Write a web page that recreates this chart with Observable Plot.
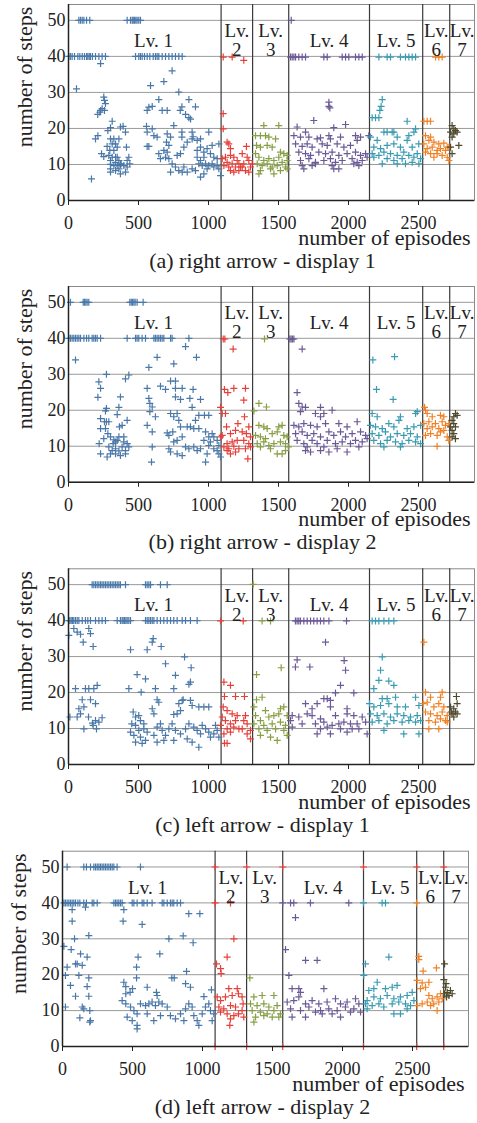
<!DOCTYPE html>
<html><head><meta charset="utf-8">
<script src="https://cdn.jsdelivr.net/npm/d3@7"></script>
<script src="https://cdn.jsdelivr.net/npm/@observablehq/plot@0.6"></script>
<style>body{margin:0;background:#fff;width:477px;overflow:hidden}svg{display:block}</style>
</head><body><div id="root"></div>
<script>
const xTicks = [0, 500, 1000, 1500, 2000, 2500];
const yTicks = [0, 10, 20, 30, 40, 50];
const gridY = [10, 20, 30, 40, 50];
const boundaries = [1090, 1315, 1573, 2150, 2530, 2723];
const levelNames = ["Lv. 1", "Lv.\n2", "Lv.\n3", "Lv. 4", "Lv. 5", "Lv.\n6", "Lv.\n7"];
const levelColors = ["#4a78a8", "#e5403b", "#87a045", "#6c5a97", "#3a9bb1", "#f08126", "#4f4a2c"];
const captions = ["(a) right arrow - display 1", "(b) right arrow - display 2", "(c) left arrow - display 1", "(d) left arrow - display 2"];

// flat [episode, steps, ...] pairs per panel per level
const A1 = [74,50,86,50,98,50,110,50,129,50,152,50,419,50,443,50,455,50,462,50,471,50,481,50,490,50,502,50,514,50,
2,40,14,40,26,40,43,40,67,40,81,40,98,40,114,40,129,40,138,40,148,40,157,40,171,40,193,40,217,40,240,40,264,40,
479,40,502,40,514,40,526,40,543,40,562,40,581,40,605,40,621,40,633,40,645,40,669,40,693,40,717,40,740,40,764,40,788,40,812,40,
229,38,57,31,252,28.7,257,27.8,264,26.9,240,25.5,257,25,229,25,209,23.9,224,24.5,312,22,300,20.2,281,19.4,210,18,193,17.1,
236,13,252,12.2,276,15,300,17.1,312,15.7,324,17.1,336,15.7,295,13.9,324,13.9,288,12.5,312,12,336,12,348,12,300,11.1,336,10.6,360,11.1,
300,10,324,9.7,348,9.7,371,10,300,8.8,336,8.3,360,8.8,300,7.9,371,7.4,407,7.9,371,20.4,390,20.6,407,19,414,14.8,431,12,419,11.1,
376,10.2,395,9.7,419,9.3,438,10.2,348,14.8,360,17.1,164,6,
586,31.9,645,28,681,33,740,36,788,30.1,562,25,574,25.9,598,26.1,669,25,705,25,798,25,810,26,860,28,907,26,836,23.9,860,23,872,22.6,
557,20.6,598,19.9,562,19,610,18,633,17.6,752,20.8,705,18.5,729,17.6,810,19,883,19,810,17.6,562,15,574,15,700,16.2,717,15.3,
645,13,681,13.9,705,13.4,657,11.6,693,12,717,11.6,740,10.2,776,12.5,800,13,824,14.8,848,16.2,883,17.1,890,17.7,
764,9.3,788,8.3,824,9.3,729,7.9,812,7.9,848,7.9,883,8.8,907,8.3,943,6.5,967,7.4,919,12,943,11.1,967,12,
919,13.9,943,14.8,967,13.4,990,14.4,1002,19,943,17.1,919,16.7,931,10.2,955,9.7,979,10.2,1002,9.7,1026,10.2,
1014,13,1038,12,1062,11.6,1038,9.3,1062,9.7,1074,8.8,1086,6.9,990,8.8,1026,15.3,1074,15.7];
const A2 = [1105,24.1,1105,19.9,1105,39.8,1169,39.8,1133,16.2,1145,15.7,1157,14.4,1121,12,1157,12.5,1181,12,1098,11.6,1205,11.1,1133,10.6,1169,10.2,1217,10.2,1110,9.7,1145,9.3,1193,9.3,1157,8.3,1181,7.9,1217,8.3,1229,9.3,1252,38.9,1271,15,1241,13,1276,12,1252,10.2,1288,11.1,1300,9.3,1264,8.3,1241,9.3,1288,7.9,1312,10.2];
const A3 = [1395,20.8,1502,20.8,1336,18,1371,18,1407,18,1431,17.6,1479,17.1,1343,15.3,1371,14.8,1419,15.3,1455,14.8,1514,13.4,1538,13,1562,12.5,1336,13,1360,12,1395,11.1,1431,11.6,1467,11.1,1502,12,1526,10.6,1562,11.1,1348,10.2,1383,9.7,1419,10.2,1455,9.3,1491,9.7,1550,9.3,1371,8.3,1443,8.8,1514,8.3,1562,8.8,1360,7.4,1467,7.4];
const A4 = [1591,50,1586,39.8,1598,39.8,1610,39.8,1622,39.8,1645,39.8,1669,39.8,1693,39.8,1824,39.8,1848,39.8,1955,39.8,1979,39.8,2002,39.8,2050,39.8,2074,39.8,2098,39.8,
1860,27.3,1860,26.1,1867,25.7,1752,22.2,1979,21.1,1895,20.2,1633,20.4,1693,19,1610,18,1657,17.6,
1717,17.6,1776,17.1,1800,17.4,1860,18,1871,17.1,1943,17.6,2050,18,2086,17.6,2145,18,
1622,15.7,1669,15,1705,15.7,1740,14.8,1812,15.7,1848,15.3,1919,15.7,1967,14.8,2014,15.3,2062,16.7,
1645,13.4,1693,13,1729,12.5,1788,13.4,1836,13,1883,13.4,1931,12.5,1990,13,2050,13.4,2086,12.5,2122,13,
1657,11.1,1717,11.6,1764,10.6,1824,11.1,1871,11.6,1907,10.6,1955,11.1,2026,11.6,2062,10.6,2098,11.1,2133,12,
1669,9.7,1740,9.7,1883,9.7,2038,10.2,2074,9.7,1764,10.2,1895,8.8,1931,8.8,1681,8.8];
const A5 = [2217,39.8,2276,39.8,2300,39.8,2371,39.8,2407,39.8,2431,39.8,2455,39.8,2479,39.8,2241,28,2233,26.1,2224,25,2169,23,2193,23,2217,23,2419,22,2253,19,2276,19,2312,19,2324,19,2467,19,2479,19.9,2157,17.6,2205,16.7,2348,17.6,2431,18,2181,14.8,2229,14.4,2276,15.3,2324,15.7,2371,14.8,2419,16.7,2455,14.8,2502,15.7,2169,13,2217,12.5,2253,13.4,2300,13,2348,12.5,2395,13.4,2431,12.5,2491,13,2181,12,2276,11.6,2324,11.1,2383,11.6,2467,12,2515,11.6,2241,10.2,2348,10.2,2407,10.2,2455,10.6,2503,10.2];
const A6 = [2622,39.8,2645,39.8,2669,39.8,2538,22,2562,22,2586,22,2550,18,2586,17.6,2538,15.7,2574,16.7,2610,16.2,2645,15.7,2681,15.9,2705,14.8,2562,14.4,2598,14.8,2633,13.9,2657,14.4,2693,13.9,2717,14.8,2586,13,2633,13,2669,12.5,2705,12,2717,11.1,2550,13.4,2610,12];
const A7 = [2740,20.8,2752,19.9,2729,19,2764,19.4,2776,19,2752,18.5,2740,17.6,2729,14.8,2788,15.3,2740,13];

const B1 = [14,50,105,50,114,50,124,50,133,50,145,50,438,50,448,50,457,50,467,50,476,50,490,50,533,50,
2,40,14,40,26,40,38,40,50,40,62,40,74,40,86,40,110,40,129,40,145,40,169,40,181,40,193,40,205,40,229,40,
419,40,479,40,490,40,502,40,526,40,550,40,610,40,621,40,633,40,645,40,657,40,669,40,681,40,729,40,740,40,860,40,
50,34,836,37.7,914,34.7,633,34.7,574,31.9,752,32.9,431,29.8,407,28.7,271,30,217,27.9,229,26.1,210,23.6,271,20.5,264,19.8,371,23.7,360,20.8,348,18.8,229,17.7,271,16.8,257,16.8,288,16.8,229,14.9,264,14.9,281,13.5,300,12.6,324,11.8,336,11.2,348,11.6,319,10.7,360,12.6,395,12.6,395,11.2,419,10.7,288,9.8,312,8.8,336,9.3,360,8.7,383,9.8,407,8.8,431,9.8,300,7.9,336,7.9,371,7.4,407,7.9,276,7,229,7.9,252,12.1,219,10.7,383,15.8,419,17.2,364,15.4,
562,26.1,574,23.3,581,21.9,598,20.9,581,19.6,562,15.8,598,14,598,9.8,593,5.6,621,18.2,657,26.7,693,25.8,729,28.1,764,28.1,764,26.1,764,23.7,800,23,812,26.1,890,25.8,867,23.3,883,20.8,943,23,729,19.1,752,18.2,776,19.1,788,17.2,800,15.4,705,13.7,717,13,745,14,752,11.2,776,11.6,812,12.6,848,15.4,871,15.4,895,14.9,931,14.9,907,17.2,931,18.6,971,18.6,1002,18.6,717,9.3,729,8.4,776,7.9,812,7.4,836,9.8,860,9.3,895,9.8,919,8.8,943,9.3,979,5.6,990,7.9,967,11.6,1002,12.6,1014,11.2,1038,12.6,1062,11.6,1074,10.2,1038,9.3,1062,8.8,1074,7.9,1086,7,1002,10.2,979,14,1026,13.5];
const B2 = [1105,39.8,1117,39.8,1176,37,1114,25.8,1138,24.9,1181,26.1,1086,20.8,1098,19.1,1121,19.1,1129,15.4,1098,13,1086,12.6,1157,13.5,1193,14.4,1210,16.3,1133,10.7,1169,11.2,1205,11.6,1110,9.8,1145,9.3,1181,10,1217,9.3,1157,7.9,1193,8.4,1133,8.8,1264,26.1,1252,22.8,1257,18.2,1288,15.4,1241,14,1271,13.5,1300,12.6,1252,11.6,1288,10.7,1264,9.3,1300,9.8,1281,6.5];
const B3 = [1400,39.8,1360,21.9,1414,20.9,1324,19.8,1360,15.8,1395,15.4,1419,14.9,1502,15.4,1526,15.8,1336,13,1371,12.6,1407,12.1,1455,13.5,1491,14,1538,13,1562,12.6,1348,10.7,1395,11.2,1431,10.2,1467,10.7,1514,11.2,1550,10.7,1570,9.8,1491,7.9,1526,7.9,1550,8.8,1371,9.8,1443,9.3];
const B4 = [1581,39.8,1590,39.8,1600,39.8,1610,39.8,1669,37,1633,24.9,1645,21.9,1669,20.9,1657,19.6,1693,20.8,1800,20.8,1764,19.1,1824,19.1,1883,20,1800,18.2,1610,15.8,1645,15.4,1681,16.3,1729,15.8,1776,15.4,1836,16.3,1931,16.3,1990,15.4,2062,16.8,1622,13.5,1669,14,1705,13,1752,13.5,1800,12.6,1860,14,1895,13,1943,14,1979,12.6,2026,13.5,2086,14,2122,13,1633,11.6,1681,10.7,1740,11.6,1776,10.7,1848,11.6,1907,10.7,1955,11.2,2014,10.7,2050,11.6,2098,11.2,2133,12.1,1693,8.8,1729,8.4,1800,8.8,1860,8.4,1919,9.3,1990,8.4,1705,9.8,1824,9.8,2074,9.8];
const B5 = [2174,34,2329,34.9,2200,25.8,2319,23,2169,19.1,2205,18.2,2371,18.2,2479,19.1,2491,19.6,2157,15.8,2193,15.4,2241,14.9,2288,16.3,2324,15.4,2360,17.2,2419,14.9,2467,15.4,2515,15.8,2169,13.5,2217,13,2264,14,2300,12.6,2348,13.5,2395,13,2443,13.5,2491,12.6,2181,11.6,2229,10.7,2276,11.6,2336,11.2,2383,10.7,2431,11.6,2479,11.2,2515,10.7,2253,9.8,2371,9.8];
const B6 = [2543,20.8,2550,20,2562,19.1,2598,18.2,2657,18.6,2681,18.2,2538,16.3,2574,16.8,2621,16.3,2669,16.8,2693,15.8,2717,16.3,2562,14.9,2598,15.4,2645,14.9,2681,14.4,2586,13.5,2633,13,2657,14,2705,12.6,2717,11.6,2633,10,2550,13];
const B7 = [2764,19.1,2776,18.6,2752,18.2,2740,17.2,2752,16.3,2764,15.4,2740,14.4,2752,13.5,2740,12.6,2764,12.1,2729,15.4];

const C1 = [169,50,181,50,193,50,205,50,217,50,229,50,240,50,252,50,264,50,276,50,288,50,300,50,312,50,324,50,336,50,348,50,360,50,371,50,407,50,550,50,562,50,574,50,586,50,657,50,705,50,
2,40,10,40,19,40,29,40,38,40,50,40,62,40,74,40,98,40,121,40,138,40,157,40,193,40,217,40,240,40,264,40,348,40,371,40,383,40,390,40,400,40,410,40,419,40,431,40,443,40,550,40,562,40,574,40,586,40,598,40,610,40,633,40,657,40,681,40,705,40,729,40,752,40,776,40,812,40,836,40,871,40,919,40,
2,35.9,38,37.8,62,36.8,86,36.2,145,37.8,157,36.4,105,34,176,32.8,50,21.1,121,21.1,145,21.1,181,21.1,205,22,98,18,157,18,74,15.5,110,16,193,16.9,86,14.1,143,13.2,171,11.5,193,12.2,217,11.8,240,13,110,9.9,176,10.9,200,9.9,10,13.2,62,13.2,
443,31.9,562,31.9,598,34,605,35,662,32.8,693,28,829,29.9,876,26.9,490,25,550,23.8,764,24.8,871,22.9,860,22.3,431,21.1,519,20.1,621,21.1,752,21.1,633,18,645,17.3,819,18,598,15.5,610,14.1,871,17.8,883,16.4,931,16,967,16,1002,16,462,14.6,479,13.2,502,13.6,452,11.3,479,10.9,514,12.2,538,11.3,502,9.5,538,9.9,562,9,443,9,467,8.1,514,7.6,550,6.7,526,5.9,479,6.2,610,8.1,633,10.4,657,11.3,669,9.5,693,8.1,717,9.9,740,11.3,752,13.9,776,14.1,800,15,788,16.9,812,17.8,764,9.5,800,8.5,836,9.9,860,11.3,895,10.4,919,9.5,943,8.5,931,4.8,955,10.9,979,9.9,1002,9,1014,7.6,1038,8.5,1062,9.5,1074,7.6,1050,10.9,752,6.7,848,7.1,883,6.2,633,6.2,681,6.7];
const C2 = [1086,39.9,1110,22.9,1157,22,1114,18.9,1193,18.9,1105,16,1133,15,1169,14.1,1205,13.6,1098,13.2,1121,12.2,1157,11.3,1193,12.2,1086,10.9,1133,9.9,1181,10.4,1217,9.9,1110,8.5,1157,9,1114,5.9,1133,5.9,1248,39.9,1257,18.9,1264,13.6,1252,12.2,1276,11.3,1241,9.9,1276,8.5,1300,9.5,1300,7.1];
const C3 = [1319,50.1,1383,39.9,1443,39.9,1519,26.9,1343,25,1343,18,1383,18.7,1324,16,1407,15,1514,15.5,1538,16,1336,13.6,1371,12.2,1431,13.2,1467,13.6,1502,14.1,1562,13.6,1324,11.3,1395,10.9,1455,11.3,1514,11.8,1550,10.9,1360,9.9,1419,9.5,1479,9.9,1538,9.5,1443,7.6,1491,6.7,1562,8.1,1371,8.1];
const C4 = [1621,39.9,1633,39.9,1645,39.9,1657,39.9,1681,39.9,1705,39.9,1729,39.9,1752,39.9,1776,39.9,1800,39.9,1824,39.9,1860,39.9,1986,39.9,1836,34,1633,29.1,1621,27.1,1724,27.1,1969,28.9,1979,26.2,1943,22,1907,19.9,2038,19.9,1693,16.9,1776,16.9,1824,18.3,1848,18.3,1871,17.8,1740,15.5,1871,16,1990,15.5,1598,13.6,1645,13.2,1705,14.1,1740,13.6,1800,12.7,1907,13.6,1990,14.1,2038,13.6,2098,13.2,1586,12.2,1669,11.3,1764,11.3,1824,11.8,1883,10.9,1931,11.3,1967,11.8,2014,11.3,2062,11.3,2122,11.8,1800,9.9,1848,10.4,1943,9.9,2026,9.9,2074,9.9,1776,8.5,1871,8.5,1990,9,2133,8.5,1598,10.4];
const C5 = [2169,39.9,2193,39.9,2217,39.9,2253,39.9,2288,39.9,2324,39.9,2241,29.9,2229,26.2,2217,23.4,2181,21.1,2288,23.2,2324,22,2241,18.3,2276,18.3,2336,18.7,2479,18.7,2150,16.9,2181,16,2229,16.4,2288,16.9,2348,16,2407,16,2503,16.4,2157,14.1,2205,13.6,2253,14.1,2300,13.2,2348,14.1,2395,13.6,2443,13.2,2491,13.6,2169,11.8,2217,12.2,2276,11.3,2324,12.2,2383,11.8,2431,12.2,2479,11.8,2515,12.2,2395,8.5,2503,8.5,2253,9.5];
const C6 = [2538,34,2550,20.1,2669,20.1,2586,18.7,2657,18.7,2533,16.9,2562,17.3,2610,16,2645,16.9,2681,16,2550,14.6,2586,14.1,2633,13.6,2669,14.6,2705,13.6,2574,12.2,2621,11.8,2657,12.7,2705,11.8,2574,9.9,2645,9.9,2693,12.2];
const C7 = [2771,18.9,2776,16.9,2752,15.5,2729,16,2764,14.6,2740,14.1,2752,13.2,2776,14.1,2734,14.6];

const D1 = [33,50,152,50,171,50,200,50,224,50,236,50,248,50,260,50,271,50,283,50,295,50,307,50,319,50,331,50,343,50,355,50,367,50,390,50,557,50,
10,40,21,40,33,40,45,40,57,40,69,40,81,40,93,40,110,40,124,40,152,40,171,40,212,40,224,40,248,40,367,40,379,40,390,40,402,40,414,40,426,40,498,40,510,40,533,40,569,40,581,40,605,40,640,40,712,40,724,40,748,40,771,40,783,40,795,40,819,40,843,40,
69,38.1,164,38.8,69,34.9,86,30,188,30.9,438,38.1,433,34.9,569,34,10,27.9,62,27,129,25.8,176,24.9,93,23,105,23,141,22.6,33,22.1,21,19.8,117,19.8,188,19.1,57,17,176,16.7,93,14,188,14,141,11,152,10.5,195,10,21,11,124,8,195,6.8,200,7.2,
540,24.9,529,22.1,529,19.1,695,25.8,760,30,862,30.8,933,28.9,902,37,981,37,886,20.9,781,19.1,798,19.1,438,17.9,452,16.7,500,16.1,452,14.7,483,15.1,605,16.5,671,15.1,676,14.2,879,17.5,914,16.5,1010,13.9,1064,15.8,426,12.8,452,11.9,486,11,510,10,533,9.1,462,8.2,498,7.2,533,5.9,533,4.9,557,11.9,593,11.4,617,11.9,640,12.4,664,11.4,688,12.4,712,11.9,605,9.1,652,7.2,700,8.6,748,11,771,8.6,807,7.7,843,9.1,867,7.2,879,10.5,902,11.9,926,11,938,8.6,962,7.2,974,5.9,998,9.1,1021,11,1045,11.9,1057,10,1069,7.2,1081,9.1];
const D2 = [1090,40,1200,40,1224,30,1100,23,1129,21.7,1133,20.3,1176,24.9,1188,16.1,1248,16.1,1105,13.8,1129,12.8,1164,13.8,1212,14.2,1257,14.7,1117,11,1152,10.5,1200,11.4,1236,11,1129,9.6,1176,9.1,1224,8.6,1200,7.7,1195,5.9,1257,9.1,1283,13.8,1290,11.9,1283,10,1295,8.2];
const D3 = [1338,19.1,1367,13.8,1426,14.2,1510,14.2,1343,11.9,1390,11.4,1438,11.9,1474,11,1533,11.4,1355,10,1414,9.6,1462,9.1,1510,10,1557,9.1,1379,8.2,1438,8.6,1498,8.2,1367,6.8,1545,8.2];
const D4 = [1573,40,1629,40,1652,40,1771,40,2045,40,1664,35.9,1593,27,1736,24,1819,24,1617,19.8,1640,16.1,1688,16.1,1700,15.1,1867,16.1,1605,12.4,1652,12.8,1688,13.8,1736,11.9,1783,12.8,1831,11.9,1890,12.4,1950,13.3,1986,11.9,2033,12.4,2093,13.3,2117,11.9,1629,10.5,1700,10,1760,11,1843,10,1902,10.5,1962,10,2021,11,2081,10.5,2129,9.6,1855,9.1,1926,9.1,1986,8.2,1640,8.2,1736,8.2,1807,9.6,2057,9.6];
const D5 = [2150,40,2283,40,2307,40,2164,23,2331,24.9,2152,19.8,2248,17.9,2188,15.6,2224,16.1,2307,16.1,2355,16.5,2390,17,2176,12.8,2224,13.8,2271,13.3,2319,14.2,2367,13.3,2414,13.8,2462,14.2,2498,15.1,2164,11.9,2212,11.4,2260,11.9,2295,11,2355,11.9,2402,12.4,2450,11.9,2486,11.4,2510,12.8,2367,9.1,2414,9.1,2462,10.5,2176,10.5];
const D6 = [2530,40,2545,25.1,2545,24.2,2576,21,2671,21.9,2533,18.4,2569,17.7,2617,17.9,2557,16.1,2593,16.5,2533,11.4,2569,11.9,2605,12.4,2641,13.3,2676,13.8,2700,14.7,2617,14.2,2652,11.9,2688,12.4,2676,10,2712,13.3,2629,11.4];
const D7 = [2729,23,2724,18.6,2736,16.5,2748,15.1,2771,15.6,2760,14.2,2783,14.7,2743,13.8,2729,14.7,2740,17.5];
// red markers on level boundaries in panel (d)
const dMarkerSteps = [50, 0];

const xMax = 2900, yMax = 54.4, lv1LabelX = 607;

const plus = {draw(ctx, size) { const r = Math.sqrt(size / Math.PI); ctx.moveTo(-r, 0); ctx.lineTo(r, 0); ctx.moveTo(0, -r); ctx.lineTo(0, r); }};

function pts(arr, lv) { const out = []; for (let i = 0; i < arr.length; i += 2) out.push({x: arr[i], y: arr[i + 1], c: levelColors[lv]}); return out; }

const edges = [0, ...boundaries, xMax];
const labels = levelNames.map((t, i) => ({t, x: i === 0 ? lv1LabelX : (edges[i] + edges[i + 1]) / 2}));

const panels = [
  {levels: [A1,A2,A3,A4,A5,A6,A7], h: 280, mt: 4, mb: 80, ml: 68, mr: 3},
  {levels: [B1,B2,B3,B4,B5,B6,B7], h: 280, mt: 6, mb: 78.3, ml: 68, mr: 3},
  {levels: [C1,C2,C3,C4,C5,C6,C7], h: 280, mt: 8.3, mb: 76, ml: 68, mr: 3},
  {levels: [D1,D2,D3,D4,D5,D6,D7], h: 283, mt: 10.7, mb: 77, ml: 62, mr: 9, markers: true}
];

const serif = "'Liberation Serif', 'Times New Roman', serif";
const root = document.getElementById("root");
panels.forEach((p, k) => {
  const data = p.levels.flatMap((arr, i) => pts(arr, i));
  const marks = [
    Plot.ruleY(gridY, {stroke: "#9a9a9a", strokeWidth: 1}),
    Plot.frame({stroke: "#8a8a8a", strokeWidth: 1}),
    Plot.ruleX(boundaries, {stroke: "#3a3a3a", strokeWidth: 1.2}),
    Plot.dot(data, {x: "x", y: "y", stroke: "c", symbol: plus, r: 3.5, strokeWidth: 1.2, fill: "none"})
  ];
  if (p.markers) {
    const m = dMarkerSteps.flatMap(s => boundaries.map(b => ({x: b, y: s})));
    marks.push(Plot.dot(m, {x: "x", y: "y", stroke: levelColors[1], symbol: plus, r: 3.5, strokeWidth: 1.2, fill: "none"}));
  }
  marks.push(
    Plot.text(labels, {x: "x", y: 44.3, text: "t", fontSize: 19, lineHeight: 1, lineAnchor: "middle", fill: "#222"}),
    Plot.ruleX([0], {stroke: "#222", strokeWidth: 1.5}),
    Plot.ruleY([0], {stroke: "#222", strokeWidth: 1.5}),
    Plot.text(["number of episodes"], {text: d => d, frameAnchor: "bottom-right", dx: -4, dy: 44, textAnchor: "end", fontSize: 22, fill: "#222"}),
    Plot.text([captions[k]], {text: d => d, frameAnchor: "bottom-left", dx: 262 - p.ml, dy: 67, textAnchor: "middle", fontSize: 22, fill: "#222"})
  );
  const chart = Plot.plot({
    width: 477, height: p.h,
    marginTop: p.mt, marginBottom: p.mb, marginLeft: p.ml, marginRight: p.mr,
    style: {fontFamily: serif, fontSize: "18px", color: "#222", background: "#fff"},
    x: {domain: [0, xMax], ticks: xTicks, tickSize: 5, tickPadding: 11, tickFormat: d => String(d), label: null},
    y: {domain: [0, yMax], ticks: yTicks, tickSize: 0, tickPadding: 3, tickFormat: d => String(d), label: null},
    color: {type: "identity"},
    marks
  });
  // rotated y-axis title
  d3.select(chart).append("text")
    .attr("transform", `translate(${p.ml - 43},${p.mt + 73}) rotate(-90)`)
    .attr("text-anchor", "middle").attr("dy", "0.32em")
    .attr("font-size", 22).attr("font-family", serif).attr("fill", "#222")
    .text("number of steps");
  root.appendChild(chart);
});
</script>
</body></html>
